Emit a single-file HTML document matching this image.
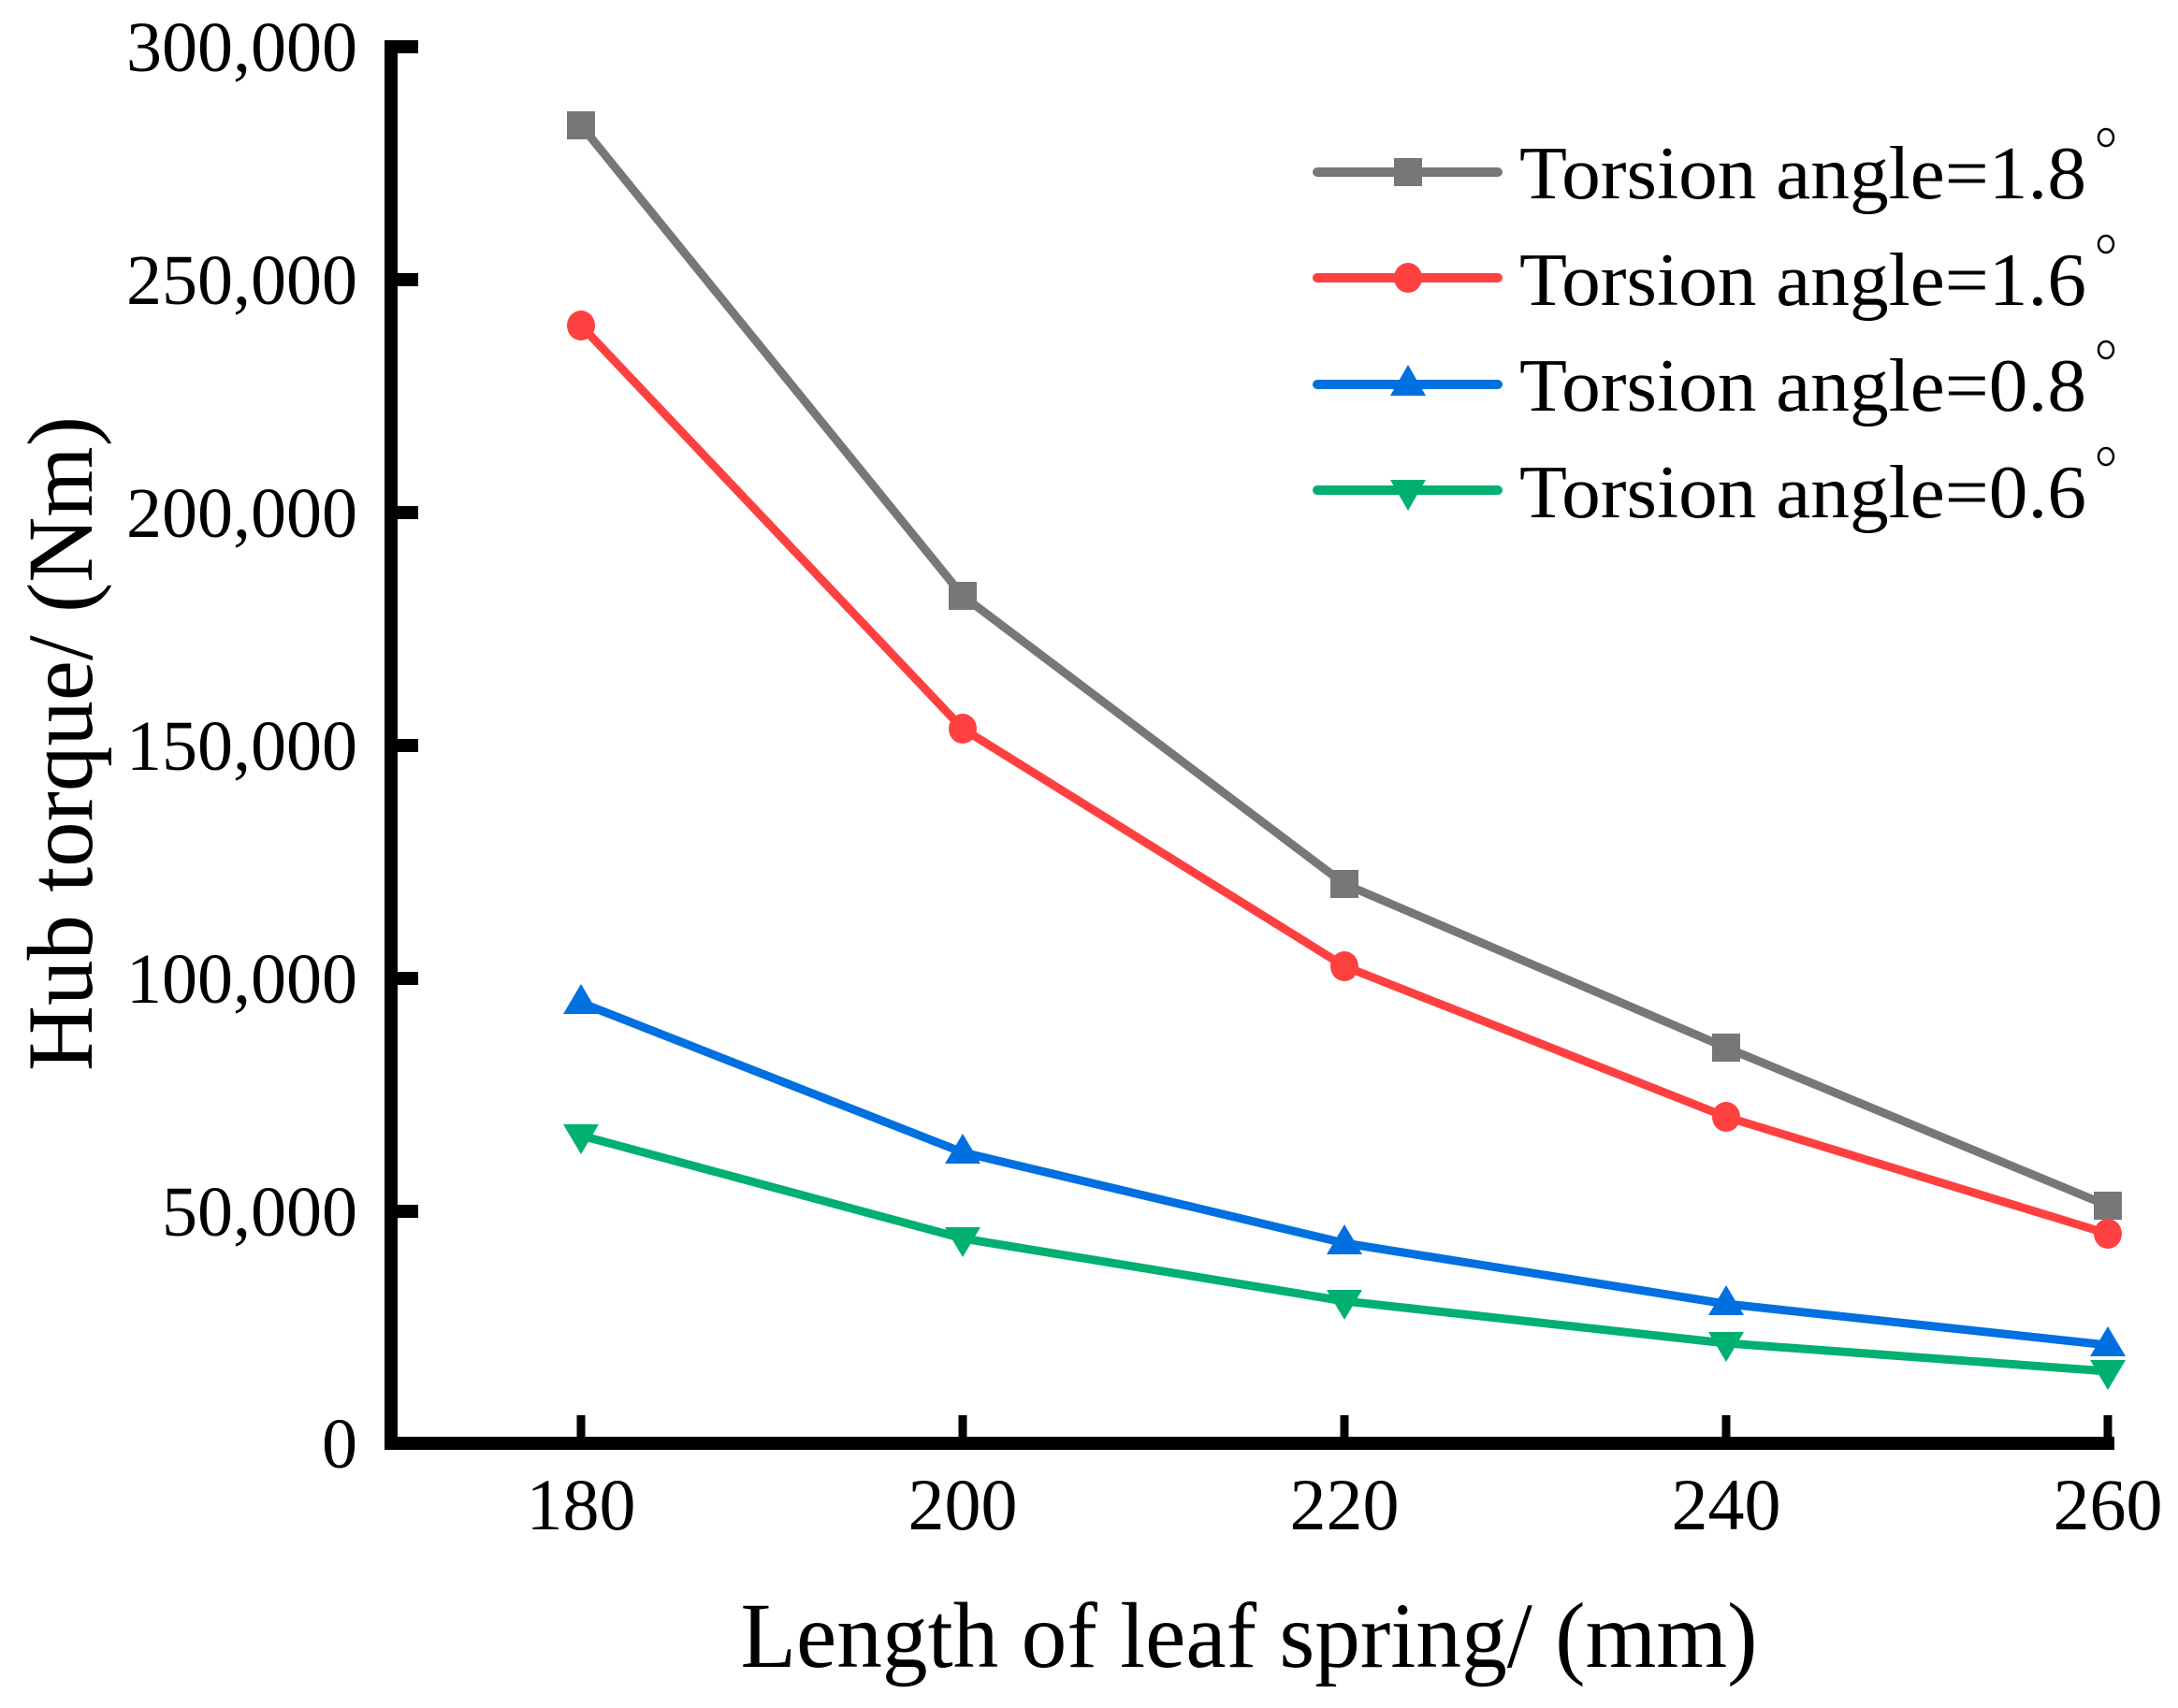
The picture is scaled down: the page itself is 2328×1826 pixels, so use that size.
<!DOCTYPE html>
<html><head><meta charset="utf-8"><style>
html,body{margin:0;padding:0;background:#fff;}
svg{display:block;}
text{font-family:"Liberation Serif",serif;fill:#000;}
</style></head><body>
<svg width="2328" height="1826" viewBox="0 0 2328 1826" xmlns="http://www.w3.org/2000/svg">
<!-- axes -->
<line x1="418" y1="43" x2="418" y2="1550" stroke="#000" stroke-width="14"/>
<line x1="411" y1="1543" x2="2260" y2="1543" stroke="#000" stroke-width="14"/>
<!-- y ticks -->
<g stroke="#000" stroke-width="14">
<line x1="418" y1="50" x2="447" y2="50"/>
<line x1="418" y1="299" x2="447" y2="299"/>
<line x1="418" y1="548" x2="447" y2="548"/>
<line x1="418" y1="797" x2="447" y2="797"/>
<line x1="418" y1="1046" x2="447" y2="1046"/>
<line x1="418" y1="1295" x2="447" y2="1295"/>
</g>
<g stroke="#000" stroke-width="9">
<line x1="621" y1="1543" x2="621" y2="1513"/>
<line x1="1029" y1="1543" x2="1029" y2="1513"/>
<line x1="1437" y1="1543" x2="1437" y2="1513"/>
<line x1="1845" y1="1543" x2="1845" y2="1513"/>
<line x1="2253" y1="1543" x2="2253" y2="1513"/>
</g>
<!-- y tick labels -->
<g font-size="76" text-anchor="end">
<text x="382" y="76">300,000</text>
<text x="382" y="325">250,000</text>
<text x="382" y="574">200,000</text>
<text x="382" y="823">150,000</text>
<text x="382" y="1072">100,000</text>
<text x="382" y="1321">50,000</text>
<text x="382" y="1569">0</text>
</g>
<g font-size="78" text-anchor="middle">
<text x="621" y="1635">180</text>
<text x="1029" y="1635">200</text>
<text x="1437" y="1635">220</text>
<text x="1845" y="1635">240</text>
<text x="2253" y="1635">260</text>
</g>
<text x="1335" y="1782" font-size="100" text-anchor="middle" textLength="1087" lengthAdjust="spacingAndGlyphs">Length of leaf spring/ (mm)</text>
<text transform="translate(98,795) rotate(-90)" font-size="100" text-anchor="middle" textLength="700" lengthAdjust="spacingAndGlyphs">Hub torque/ (Nm)</text>
<!-- series -->
<g fill="none" stroke-width="9" stroke-linejoin="round" stroke-linecap="round">
<polyline stroke="#777777" points="621,134 1029,637 1437,945 1845,1120 2253,1289"/>
<polyline stroke="#ff4040" points="621,348 1029,779 1437,1033 1845,1194 2253,1319"/>
<polyline stroke="#0070e0" points="621,1072 1029,1232 1437,1329 1845,1394 2253,1438"/>
<polyline stroke="#00b070" points="621,1214 1029,1324 1437,1391 1845,1436 2253,1466"/>
</g>
<g fill="#777777">
<rect x="606" y="119" width="30" height="30"/><rect x="1014" y="622" width="30" height="30"/><rect x="1422" y="930" width="30" height="30"/><rect x="1830" y="1105" width="30" height="30"/><rect x="2238" y="1274" width="30" height="30"/>
</g>
<g fill="#ff4040">
<ellipse cx="621" cy="348" rx="15" ry="16"/><ellipse cx="1029" cy="779" rx="15" ry="16"/><ellipse cx="1437" cy="1033" rx="15" ry="16"/><ellipse cx="1845" cy="1194" rx="15" ry="16"/><ellipse cx="2253" cy="1319" rx="15" ry="16"/>
</g>
<g fill="#0070e0">
<polygon points="621,1052 640,1084 602,1084"/><polygon points="1029,1212 1048,1244 1010,1244"/><polygon points="1437,1309 1456,1341 1418,1341"/><polygon points="1845,1374 1864,1406 1826,1406"/><polygon points="2253,1418 2272,1450 2234,1450"/>
</g>
<g fill="#00b070">
<polygon points="602,1202 640,1202 621,1234"/><polygon points="1010,1312 1048,1312 1029,1344"/><polygon points="1418,1379 1456,1379 1437,1411"/><polygon points="1826,1424 1864,1424 1845,1456"/><polygon points="2234,1454 2272,1454 2253,1486"/>
</g>
<!-- legend -->
<g stroke-width="10" stroke-linecap="round">
<line x1="1408" y1="184" x2="1601" y2="184" stroke="#777777"/>
<line x1="1408" y1="297" x2="1601" y2="297" stroke="#ff4040"/>
<line x1="1408" y1="411" x2="1601" y2="411" stroke="#0070e0"/>
<line x1="1408" y1="524" x2="1601" y2="524" stroke="#00b070"/>
</g>
<rect x="1490" y="169" width="30" height="30" fill="#777777"/>
<ellipse cx="1505" cy="297" rx="15" ry="16" fill="#ff4040"/>
<polygon points="1505,390 1524,423 1486,423" fill="#0070e0"/>
<polygon points="1486,513 1524,513 1505,546" fill="#00b070"/>
<g font-size="80">
<text x="1624" y="212" textLength="606" lengthAdjust="spacingAndGlyphs">Torsion angle=1.8</text>
<text x="1624" y="326" textLength="606" lengthAdjust="spacingAndGlyphs">Torsion angle=1.6</text>
<text x="1624" y="439" textLength="606" lengthAdjust="spacingAndGlyphs">Torsion angle=0.8</text>
<text x="1624" y="553" textLength="606" lengthAdjust="spacingAndGlyphs">Torsion angle=0.6</text>
</g>
<g fill="none" stroke="#000" stroke-width="2.5">
<ellipse cx="2251" cy="147" rx="8" ry="9"/>
<ellipse cx="2251" cy="261" rx="8" ry="9"/>
<ellipse cx="2251" cy="374" rx="8" ry="9"/>
<ellipse cx="2251" cy="488" rx="8" ry="9"/>
</g>
</svg>
</body></html>
